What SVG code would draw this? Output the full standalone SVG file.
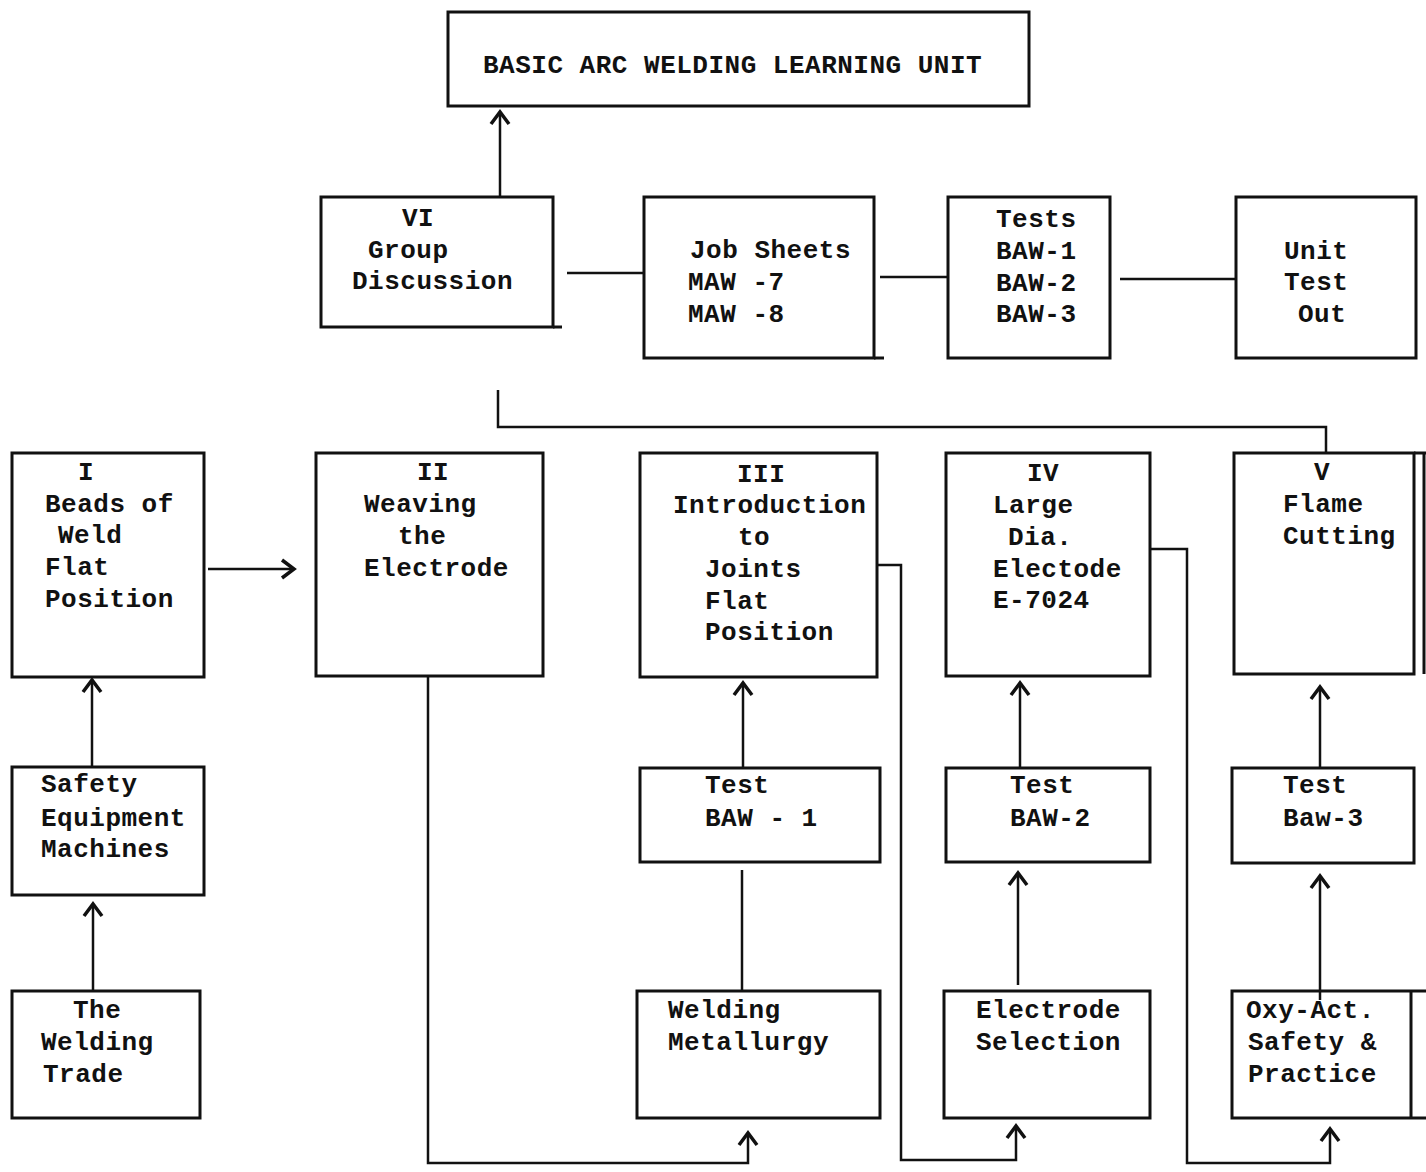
<svg xmlns="http://www.w3.org/2000/svg" width="1426" height="1172" viewBox="0 0 1426 1172">
<style>
.box{fill:none;stroke:#111;stroke-width:3}
.ln{fill:none;stroke:#111;stroke-width:2.5}
text{font-family:"Liberation Mono","DejaVu Sans Mono",monospace;font-size:26px;font-weight:bold;fill:#111;letter-spacing:0.5px}
</style>
<defs>
<marker id="arr" markerUnits="userSpaceOnUse" markerWidth="28" markerHeight="28" viewBox="-14 -14 28 28" refX="0" refY="0" orient="auto">
<path d="M-12,-9 L0,0 L-12,9" fill="none" stroke="#111" stroke-width="3.5"/>
</marker>
</defs>
<rect width="1426" height="1172" fill="#fff"/>
<g id="connectors">
<line class="ln" x1="500" y1="197" x2="500" y2="112" marker-end="url(#arr)"/>
<line class="ln" x1="567" y1="273" x2="644" y2="273"/>
<line class="ln" x1="880" y1="277" x2="948" y2="277"/>
<line class="ln" x1="1120" y1="279" x2="1236" y2="279"/>
<polyline class="ln" points="498,390 498,427 1326,427 1326,453"/>
<line class="ln" x1="208" y1="569" x2="294" y2="569" marker-end="url(#arr)"/>
<line class="ln" x1="92" y1="767" x2="92" y2="680" marker-end="url(#arr)"/>
<line class="ln" x1="93" y1="991" x2="93" y2="904" marker-end="url(#arr)"/>
<polyline class="ln" points="428,676 428,1163 748,1163 748,1133" marker-end="url(#arr)"/>
<line class="ln" x1="742" y1="991" x2="742" y2="870"/>
<line class="ln" x1="743" y1="768" x2="743" y2="683" marker-end="url(#arr)"/>
<polyline class="ln" points="877,565 901,565 901,1160 1016,1160 1016,1126" marker-end="url(#arr)"/>
<line class="ln" x1="1018" y1="985" x2="1018" y2="873" marker-end="url(#arr)"/>
<line class="ln" x1="1020" y1="768" x2="1020" y2="683" marker-end="url(#arr)"/>
<polyline class="ln" points="1150,549 1187,549 1187,1163 1330,1163 1330,1129" marker-end="url(#arr)"/>
<line class="ln" x1="1320" y1="1000" x2="1320" y2="876" marker-end="url(#arr)"/>
<line class="ln" x1="1320" y1="768" x2="1320" y2="687" marker-end="url(#arr)"/>
</g>
<g id="title"><rect class="box" x="448" y="12" width="581" height="94"/><text x="483" y="73">BASIC ARC WELDING LEARNING UNIT</text></g>
<g id="vi"><rect class="box" x="321" y="197" width="232" height="130"/><line class="box" x1="553" y1="327" x2="562" y2="327"/>
<text x="402" y="226">VI</text><text x="368" y="258">Group</text><text x="352" y="289">Discussion</text></g>
<g id="jobsheets"><rect class="box" x="644" y="197" width="230" height="161"/><line class="box" x1="874" y1="358" x2="884" y2="358"/>
<text x="690" y="258">Job Sheets</text><text x="688" y="290">MAW -7</text><text x="688" y="322">MAW -8</text></g>
<g id="tests"><rect class="box" x="948" y="197" width="162" height="161"/>
<text x="996" y="227">Tests</text><text x="996" y="259">BAW-1</text><text x="996" y="291">BAW-2</text><text x="996" y="322">BAW-3</text></g>
<g id="unittest"><rect class="box" x="1236" y="197" width="180" height="161"/>
<text x="1284" y="259">Unit</text><text x="1284" y="290">Test</text><text x="1298" y="322">Out</text></g>
<g id="n1"><rect class="box" x="12" y="453" width="192" height="224"/>
<text x="78" y="480">I</text><text x="45" y="512">Beads of</text><text x="58" y="543">Weld</text><text x="45" y="575">Flat</text><text x="45" y="607">Position</text></g>
<g id="n2"><rect class="box" x="316" y="453" width="227" height="223"/>
<text x="417" y="480">II</text><text x="364" y="512">Weaving</text><text x="398" y="544">the</text><text x="364" y="576">Electrode</text></g>
<g id="n3"><rect class="box" x="640" y="453" width="237" height="224"/>
<text x="737" y="482">III</text><text x="673" y="513">Introduction</text><text x="738" y="545">to</text><text x="705" y="577">Joints</text><text x="705" y="609">Flat</text><text x="705" y="640">Position</text></g>
<g id="n4"><rect class="box" x="946" y="453" width="204" height="223"/>
<text x="1027" y="481">IV</text><text x="993" y="513">Large</text><text x="1008" y="545">Dia.</text><text x="993" y="577">Electode</text><text x="993" y="608">E-7024</text></g>
<g id="n5"><rect class="box" x="1234" y="453" width="180" height="221"/><line class="box" x1="1414" y1="453" x2="1426" y2="453"/><line class="box" x1="1424" y1="453" x2="1424" y2="674"/>
<text x="1314" y="480">V</text><text x="1283" y="512">Flame</text><text x="1283" y="544">Cutting</text></g>
<g id="safety"><rect class="box" x="12" y="767" width="192" height="128"/>
<text x="41" y="792">Safety</text><text x="41" y="826">Equipment</text><text x="41" y="857">Machines</text></g>
<g id="test1"><rect class="box" x="640" y="768" width="240" height="94"/>
<text x="705" y="793">Test</text><text x="705" y="826">BAW - 1</text></g>
<g id="test2"><rect class="box" x="946" y="768" width="204" height="94"/>
<text x="1010" y="793">Test</text><text x="1010" y="826">BAW-2</text></g>
<g id="test3"><rect class="box" x="1232" y="768" width="182" height="95"/>
<text x="1283" y="793">Test</text><text x="1283" y="826">Baw-3</text></g>
<g id="trade"><rect class="box" x="12" y="991" width="188" height="127"/>
<text x="73" y="1018">The</text><text x="41" y="1050">Welding</text><text x="43" y="1082">Trade</text></g>
<g id="metallurgy"><rect class="box" x="637" y="991" width="243" height="127"/>
<text x="668" y="1018">Welding</text><text x="668" y="1050">Metallurgy</text></g>
<g id="selection"><rect class="box" x="944" y="991" width="206" height="127"/>
<text x="976" y="1018">Electrode</text><text x="976" y="1050">Selection</text></g>
<g id="oxy"><rect class="box" x="1232" y="991" width="196" height="127"/><line class="box" x1="1411" y1="991" x2="1411" y2="1118"/>
<text x="1246" y="1018">Oxy-Act.</text><text x="1248" y="1050">Safety &amp;</text><text x="1248" y="1082">Practice</text></g>
</svg>
